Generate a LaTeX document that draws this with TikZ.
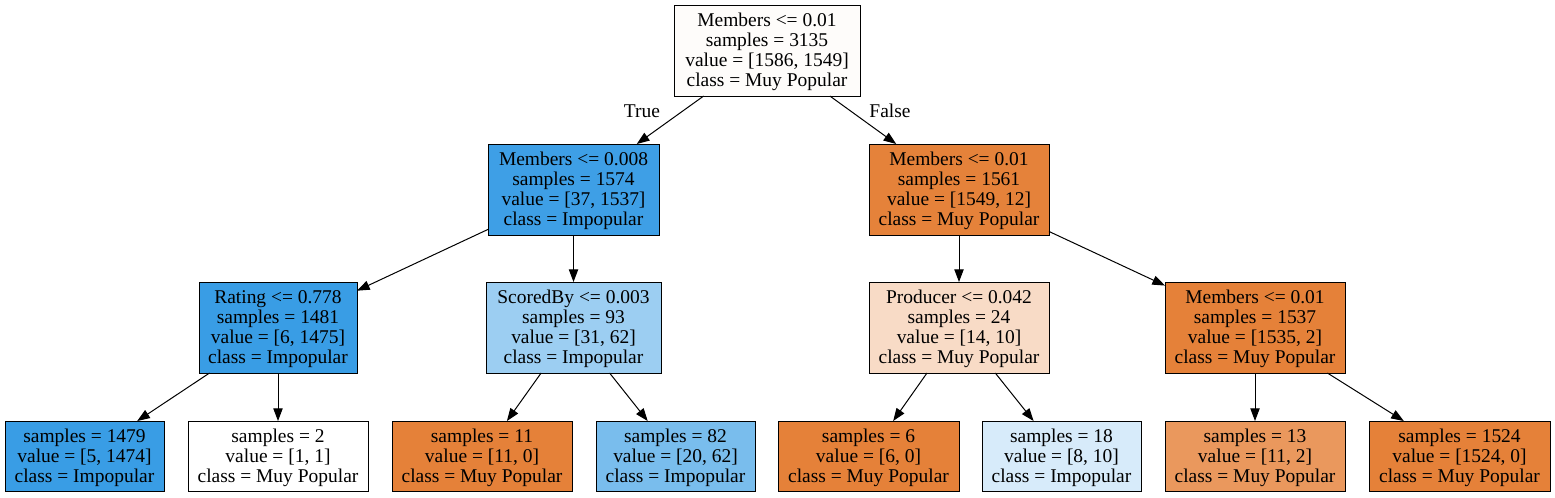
\documentclass[tikz,border=0pt]{standalone}
\usepackage{fontspec}
\setmainfont{Liberation Serif}
\usetikzlibrary{arrows.meta}
\definecolor{cRoot}{HTML}{FEFCFA}
\definecolor{cBlue}{HTML}{399DE5}
\definecolor{cBlueA}{HTML}{3E9FE6}
\definecolor{cOrange}{HTML}{E58139}
\definecolor{cOrangeA}{HTML}{E5823A}
\definecolor{cScored}{HTML}{9CCEF2}
\definecolor{cProd}{HTML}{F8DBC6}
\definecolor{cLeafB}{HTML}{79BDED}
\definecolor{cLeafC}{HTML}{D7EBFA}
\definecolor{cLeafD}{HTML}{EA985D}
\tikzset{
  tbox/.style={draw=black, line width=0.75pt, rectangle, inner sep=0pt, outer sep=0pt,
    align=center, font=\fontsize{14.6}{15}\selectfont},
  edge/.style={draw=black, line width=0.75pt, -{Triangle[length=9.5pt,width=7pt]}},
  elabel/.style={font=\fontsize{14.6}{15}\selectfont, inner sep=0pt}
}
\newcommand\treebox[7]{\node[tbox, fill=#6, minimum width={(#4-#2)*0.75pt}, minimum height={(#5-#3)*0.75pt}] (#1) at ({(#2+#4)/2},{(#3+#5)/2}) {\raisebox{-1.5pt}[\height][\depth]{\begin{tabular}{@{}c@{}}#7\end{tabular}}};}
\begin{document}
\begin{tikzpicture}[x=0.75pt,y=-0.75pt]
\useasboundingbox[fill=white] (0,0) rectangle (1555,497);
% level 0
\treebox{root}{674}{5}{860}{96}{cRoot}{Members <= 0.01\\samples = 3135\\value = [1586, 1549]\\class = Muy Popular}
% level 1
\treebox{la}{488}{144}{659}{235}{cBlueA}{Members <= 0.008\\samples = 1574\\value = [37, 1537]\\class = Impopular}
\treebox{lb}{869}{144}{1049}{235}{cOrangeA}{Members <= 0.01\\samples = 1561\\value = [1549, 12]\\class = Muy Popular}
% level 2
\treebox{rating}{199}{282}{357}{373}{cBlue}{Rating <= 0.778\\samples = 1481\\value = [6, 1475]\\class = Impopular}
\treebox{scored}{486}{282}{661}{373}{cScored}{ScoredBy <= 0.003\\samples = 93\\value = [31, 62]\\class = Impopular}
\treebox{prod}{869}{282}{1049}{373}{cProd}{Producer <= 0.042\\samples = 24\\value = [14, 10]\\class = Muy Popular}
\treebox{memb}{1165}{282}{1345}{373}{cOrange}{Members <= 0.01\\samples = 1537\\value = [1535, 2]\\class = Muy Popular}
% level 3
\treebox{l1}{5}{421}{164}{491}{cBlue}{samples = 1479\\value = [5, 1474]\\class = Impopular}
\treebox{l2}{188}{421}{368}{491}{white}{samples = 2\\value = [1, 1]\\class = Muy Popular}
\treebox{l3}{392}{421}{572}{491}{cOrange}{samples = 11\\value = [11, 0]\\class = Muy Popular}
\treebox{l4}{596}{421}{755}{491}{cLeafB}{samples = 82\\value = [20, 62]\\class = Impopular}
\treebox{l5}{778}{421}{959}{491}{cOrange}{samples = 6\\value = [6, 0]\\class = Muy Popular}
\treebox{l6}{982}{421}{1141}{491}{cLeafC}{samples = 18\\value = [8, 10]\\class = Impopular}
\treebox{l7}{1165}{421}{1345}{491}{cLeafD}{samples = 13\\value = [11, 2]\\class = Muy Popular}
\treebox{l8}{1369}{421}{1550}{491}{cOrange}{samples = 1524\\value = [1524, 0]\\class = Muy Popular}
% edges
\draw[edge] (root) -- (la);
\draw[edge] (root) -- (lb);
\draw[edge] (la) -- (rating);
\draw[edge] (la) -- (scored);
\draw[edge] (lb) -- (prod);
\draw[edge] (lb) -- (memb);
\draw[edge] (rating) -- (l1);
\draw[edge] (rating) -- (l2);
\draw[edge] (scored) -- (l3);
\draw[edge] (scored) -- (l4);
\draw[edge] (prod) -- (l5);
\draw[edge] (prod) -- (l6);
\draw[edge] (memb) -- (l7);
\draw[edge] (memb) -- (l8);
% edge labels
\node[elabel] (ltrue) at (642,111) {True};
\node[elabel] (lfalse) at (890,111) {False};
\end{tikzpicture}
\end{document}
